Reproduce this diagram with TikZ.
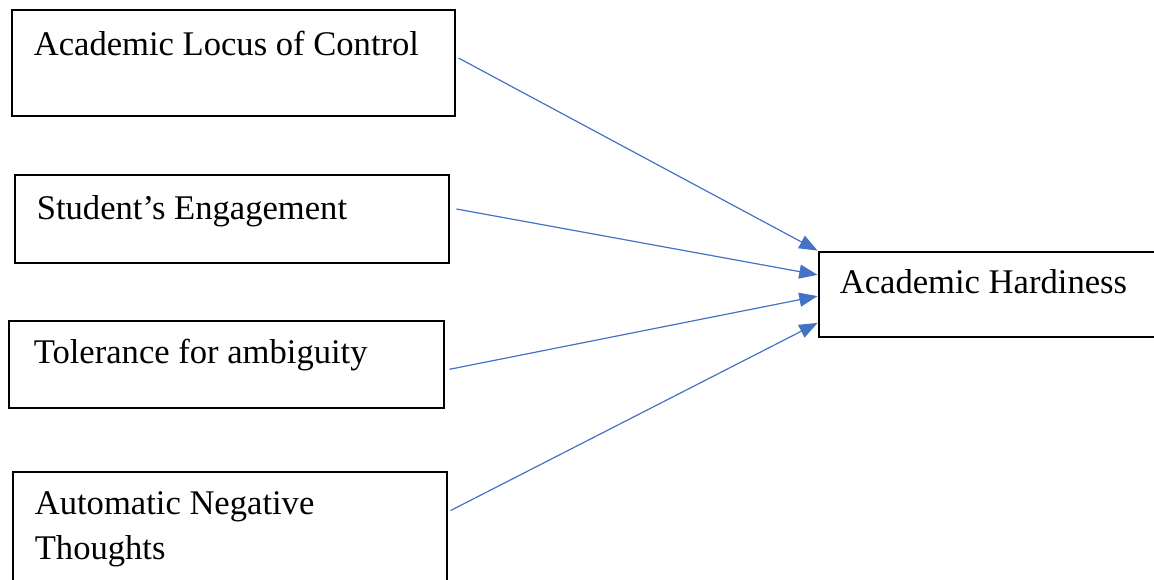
\documentclass[tikz,border=0pt]{standalone}
\usepackage{fontspec}
\setmainfont{Liberation Serif}
\usetikzlibrary{arrows.meta,calc}
\definecolor{linkblue}{RGB}{68,114,196}

\begin{document}
\begin{tikzpicture}
[x=0.025cm,y=-0.025cm,
factor/.style={rectangle,draw=black,line width=2pt,inner sep=0pt},
caption/.style={anchor=base west,inner sep=0pt,align=left,font=\fontsize{24.6}{32}\selectfont},
link/.style={draw=linkblue,line width=0.85pt,-{Triangle[length=13pt,width=10pt]}}]
\useasboundingbox (0,0) rectangle (1154,579);
\node (alc) at (233.5,63) [factor,minimum width=11.075cm,minimum height=2.65cm] {};
\node (se) at (232,219) [factor,minimum width=10.85cm,minimum height=2.2cm] {};
\node (tfa) at (226.5,364.5) [factor,minimum width=10.875cm,minimum height=2.175cm] {};
\node (ant) at (230,532) [factor,minimum width=10.85cm,minimum height=3cm] {};
\node (ah) at (992,294.5) [factor,minimum width=8.65cm,minimum height=2.125cm] {};
\node (alct) at ($(alc.north west)+(23,47)$) [caption] {Academic Locus of Control};
\node (set) at ($(se.north west)+(23,46)$) [caption] {Student’s Engagement};
\node (tfat) at ($(tfa.north west)+(26,44)$) [caption] {Tolerance for ambiguity};
\node (antt) at ($(ant.north west)+(23,89)$) [caption] {Automatic Negative\\Thoughts};
\node (aht) at ($(ah.north west)+(22,43)$) [caption] {Academic Hardiness};
\draw [link] ([xshift=0.05cm,yshift=0.125cm]alc.east) -- (ah.north west);
\draw [link] ([xshift=0.15cm,yshift=0.25cm]se.east) -- ([yshift=0.49cm]ah.west);
\draw [link] ([xshift=0.1cm,yshift=-0.12cm]tfa.east) -- ([yshift=-0.04cm]ah.west);
\draw [link] ([xshift=0.05cm,yshift=-1cm]ant.north east) -- ([yshift=-0.71cm]ah.west);
\end{tikzpicture}
\end{document}
